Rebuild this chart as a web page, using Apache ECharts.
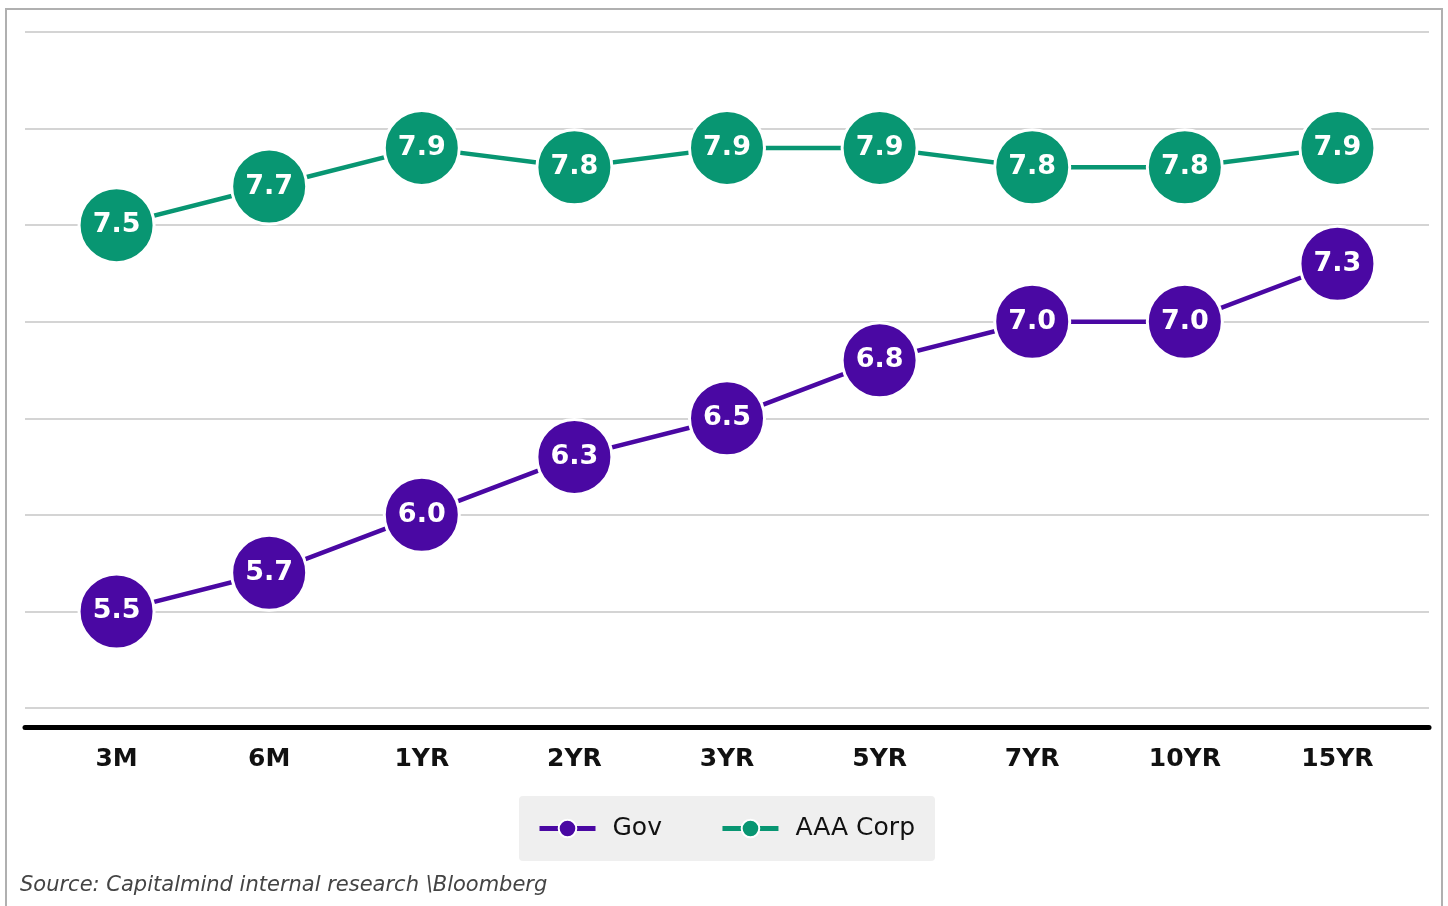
<!DOCTYPE html>
<html>
<head>
<meta charset="utf-8">
<script src="https://cdn.jsdelivr.net/npm/echarts@6/dist/echarts.min.js"></script>
<style>
  html, body { margin: 0; padding: 0; background: #fff; }
  #main { width: 1448px; height: 906px; }
</style>
</head>
<body>
<div id="main"></div>
<script>
// tenors along the x axis
const tenors = ['3M', '6M', '1YR', '2YR', '3YR', '5YR', '7YR', '10YR', '15YR'];
// yields (%)
const govYield = [5.5, 5.7, 6.0, 6.3, 6.5, 6.8, 7.0, 7.0, 7.3];
const aaaCorpYield = [7.5, 7.7, 7.9, 7.8, 7.9, 7.9, 7.8, 7.8, 7.9];

const FONT = 'DejaVu Sans';
const GOV = '#4a08a3';
const CORP = '#089672';

const toPoints = (arr) => arr.map((v, i) => [i, v]);

function lineSeries(name, color, data) {
    return {
        name: name,
        type: 'line',
        data: toPoints(data),
        symbol: 'circle',
        symbolSize: 75,
        lineStyle: { color: color, width: 4.5 },
        itemStyle: { color: color, borderColor: '#fff', borderWidth: 3 },
        label: {
            show: true,
            position: 'inside',
            color: '#fff',
            fontFamily: FONT,
            fontWeight: 'bold',
            fontSize: 27,
            formatter: (p) => p.value[1].toFixed(1)
        },
        emphasis: { disabled: true },
        z: 3
    };
}

const chart = echarts.init(document.getElementById('main'));
const option = {
    animation: false,
    backgroundColor: '#fff',
    grid: { left: 25, right: 19, top: 32, bottom: 198 },
    xAxis: {
        type: 'value',
        min: -0.6,
        max: 8.6,
        offset: 19,
        axisLine: { show: true, lineStyle: { color: '#000', width: 5 } },
        axisTick: { show: false },
        splitLine: { show: false },
        axisLabel: {
            customValues: tenors.map((_, i) => i),
            formatter: (v) => tenors[Math.round(v)],
            color: '#111',
            fontFamily: FONT,
            fontWeight: 'bold',
            fontSize: 25,
            margin: 20
        }
    },
    yAxis: {
        type: 'value',
        min: 5,
        max: 8.5,
        interval: 0.5,
        axisLine: { show: false },
        axisTick: { show: false },
        axisLabel: { show: false },
        splitLine: { lineStyle: { color: '#d4d4d4', width: 2 } }
    },
    legend: {
        data: ['Gov', 'AAA Corp'],
        left: 519,
        top: 796,
        padding: [20, 20, 20, 18],
        backgroundColor: '#efefef',
        borderRadius: 4,
        itemWidth: 56,
        itemHeight: 22,
        itemGap: 58,
        lineStyle: { width: 5 },
        textStyle: {
            fontFamily: FONT,
            fontSize: 25,
            color: '#111',
            padding: [0, 0, 0, 12]
        }
    },
    graphic: [
        {
            type: 'rect',
            shape: { x: 6, y: 9, width: 1436, height: 920 },
            style: { fill: 'none', stroke: '#b0b0b0', lineWidth: 2 },
            silent: true
        },
        {
            type: 'text',
            left: 20,
            top: 875,
            style: {
                text: 'Source: Capitalmind internal research \\Bloomberg',
                font: 'italic 21px "DejaVu Sans"',
                fill: '#444'
            }
        }
    ],
    series: [
        lineSeries('Gov', GOV, govYield),
        lineSeries('AAA Corp', CORP, aaaCorpYield)
    ]
};
chart.setOption(option);
</script>
</body>
</html>
